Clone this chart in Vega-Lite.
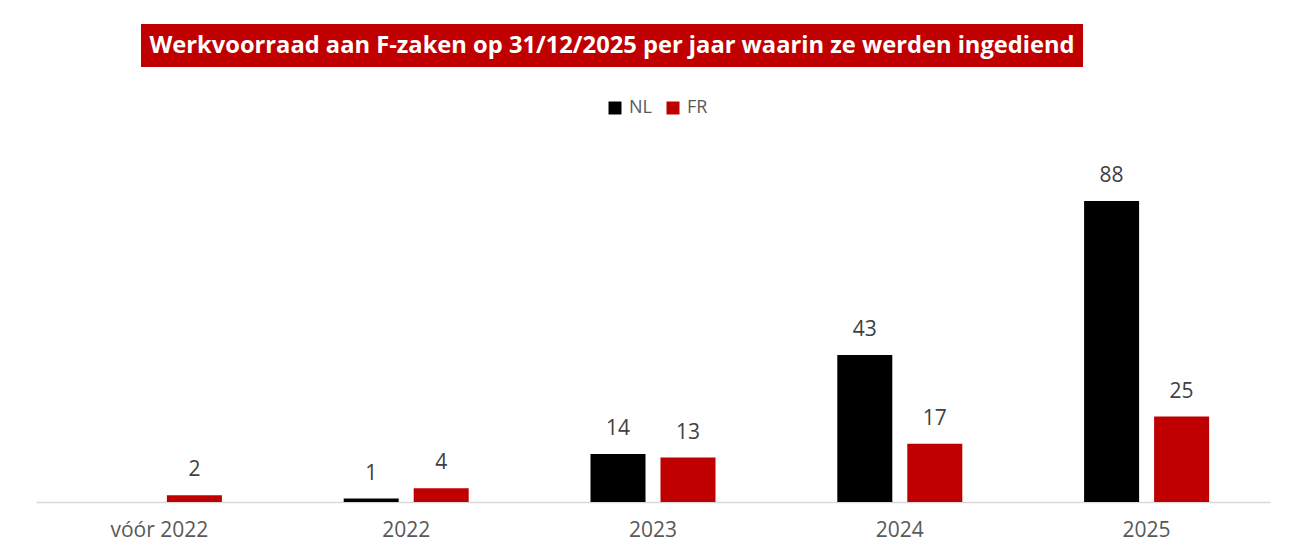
{
  "$schema": "https://vega.github.io/schema/vega-lite/v6.json",
  "padding": {"left": 36, "top": 24, "right": 5, "bottom": 5},
  "background": "white",
  "config": {"view": {"stroke": null}, "font": "Open Sans"},
  "spacing": 93,
  "vconcat": [
    {
      "hconcat": [
        {
          "width": 105, "height": 43,
          "data": {"values": [{"t": ""}]},
          "mark": {"type": "text"},
          "encoding": {"text": {"field": "t"}}
        },
        {
          "width": 942, "height": 43,
          "view": {"fill": "#C00000", "stroke": null},
          "data": {"values": [{"t": "Werkvoorraad aan F-zaken op 31/12/2025 per jaar waarin ze werden ingediend"}]},
          "mark": {"type": "text", "font": "Open Sans", "fontWeight": "bold", "fontSize": 23.7, "color": "white"},
          "encoding": {"text": {"field": "t"}}
        }
      ],
      "spacing": 0
    },
    {
      "width": 1234,
      "height": 342,
      "data": {"values": [
        {"jaar": "vóór 2022", "taal": "FR", "aantal": 2},
        {"jaar": "2022", "taal": "NL", "aantal": 1},
        {"jaar": "2022", "taal": "FR", "aantal": 4},
        {"jaar": "2023", "taal": "NL", "aantal": 14},
        {"jaar": "2023", "taal": "FR", "aantal": 13},
        {"jaar": "2024", "taal": "NL", "aantal": 43},
        {"jaar": "2024", "taal": "FR", "aantal": 17},
        {"jaar": "2025", "taal": "NL", "aantal": 88},
        {"jaar": "2025", "taal": "FR", "aantal": 25}
      ]},
      "encoding": {
        "x": {
          "field": "jaar", "type": "nominal",
          "sort": ["vóór 2022", "2022", "2023", "2024", "2025"],
          "scale": {"paddingInner": 0.4935, "paddingOuter": 0.24675},
          "axis": {"title": null, "labelAngle": 0, "ticks": false, "domainColor": "#D9D9D9", "domainWidth": 1.5, "labelColor": "#595959", "labelFontSize": 21, "labelFont": "Open Sans", "labelPadding": 17}
        },
        "xOffset": {
          "field": "taal", "type": "nominal", "sort": ["NL", "FR"],
          "scale": {"paddingInner": 0.2143, "paddingOuter": 0}
        },
        "y": {
          "field": "aantal", "type": "quantitative",
          "scale": {"domain": [0, 100]},
          "axis": null
        }
      },
      "layer": [
        {
          "mark": {"type": "bar"},
          "encoding": {
            "color": {
              "field": "taal", "type": "nominal", "sort": ["NL", "FR"],
              "scale": {"domain": ["NL", "FR"], "range": ["#000000", "#C00000"]},
              "legend": {
                "title": null, "orient": "none", "direction": "horizontal",
                "legendX": 570, "legendY": 75, "padding": 0,
                "symbolType": "square", "symbolSize": 169, "symbolStrokeWidth": 0,
                "labelFontSize": 18, "labelColor": "#595959", "labelFont": "Open Sans",
                "labelOffset": 5, "columnPadding": 12
              }
            }
          }
        },
        {
          "mark": {"type": "text", "baseline": "bottom", "dy": -15, "fontSize": 21, "color": "#404040", "font": "Open Sans"},
          "encoding": {"text": {"field": "aantal", "type": "quantitative"}}
        }
      ]
    }
  ]
}
